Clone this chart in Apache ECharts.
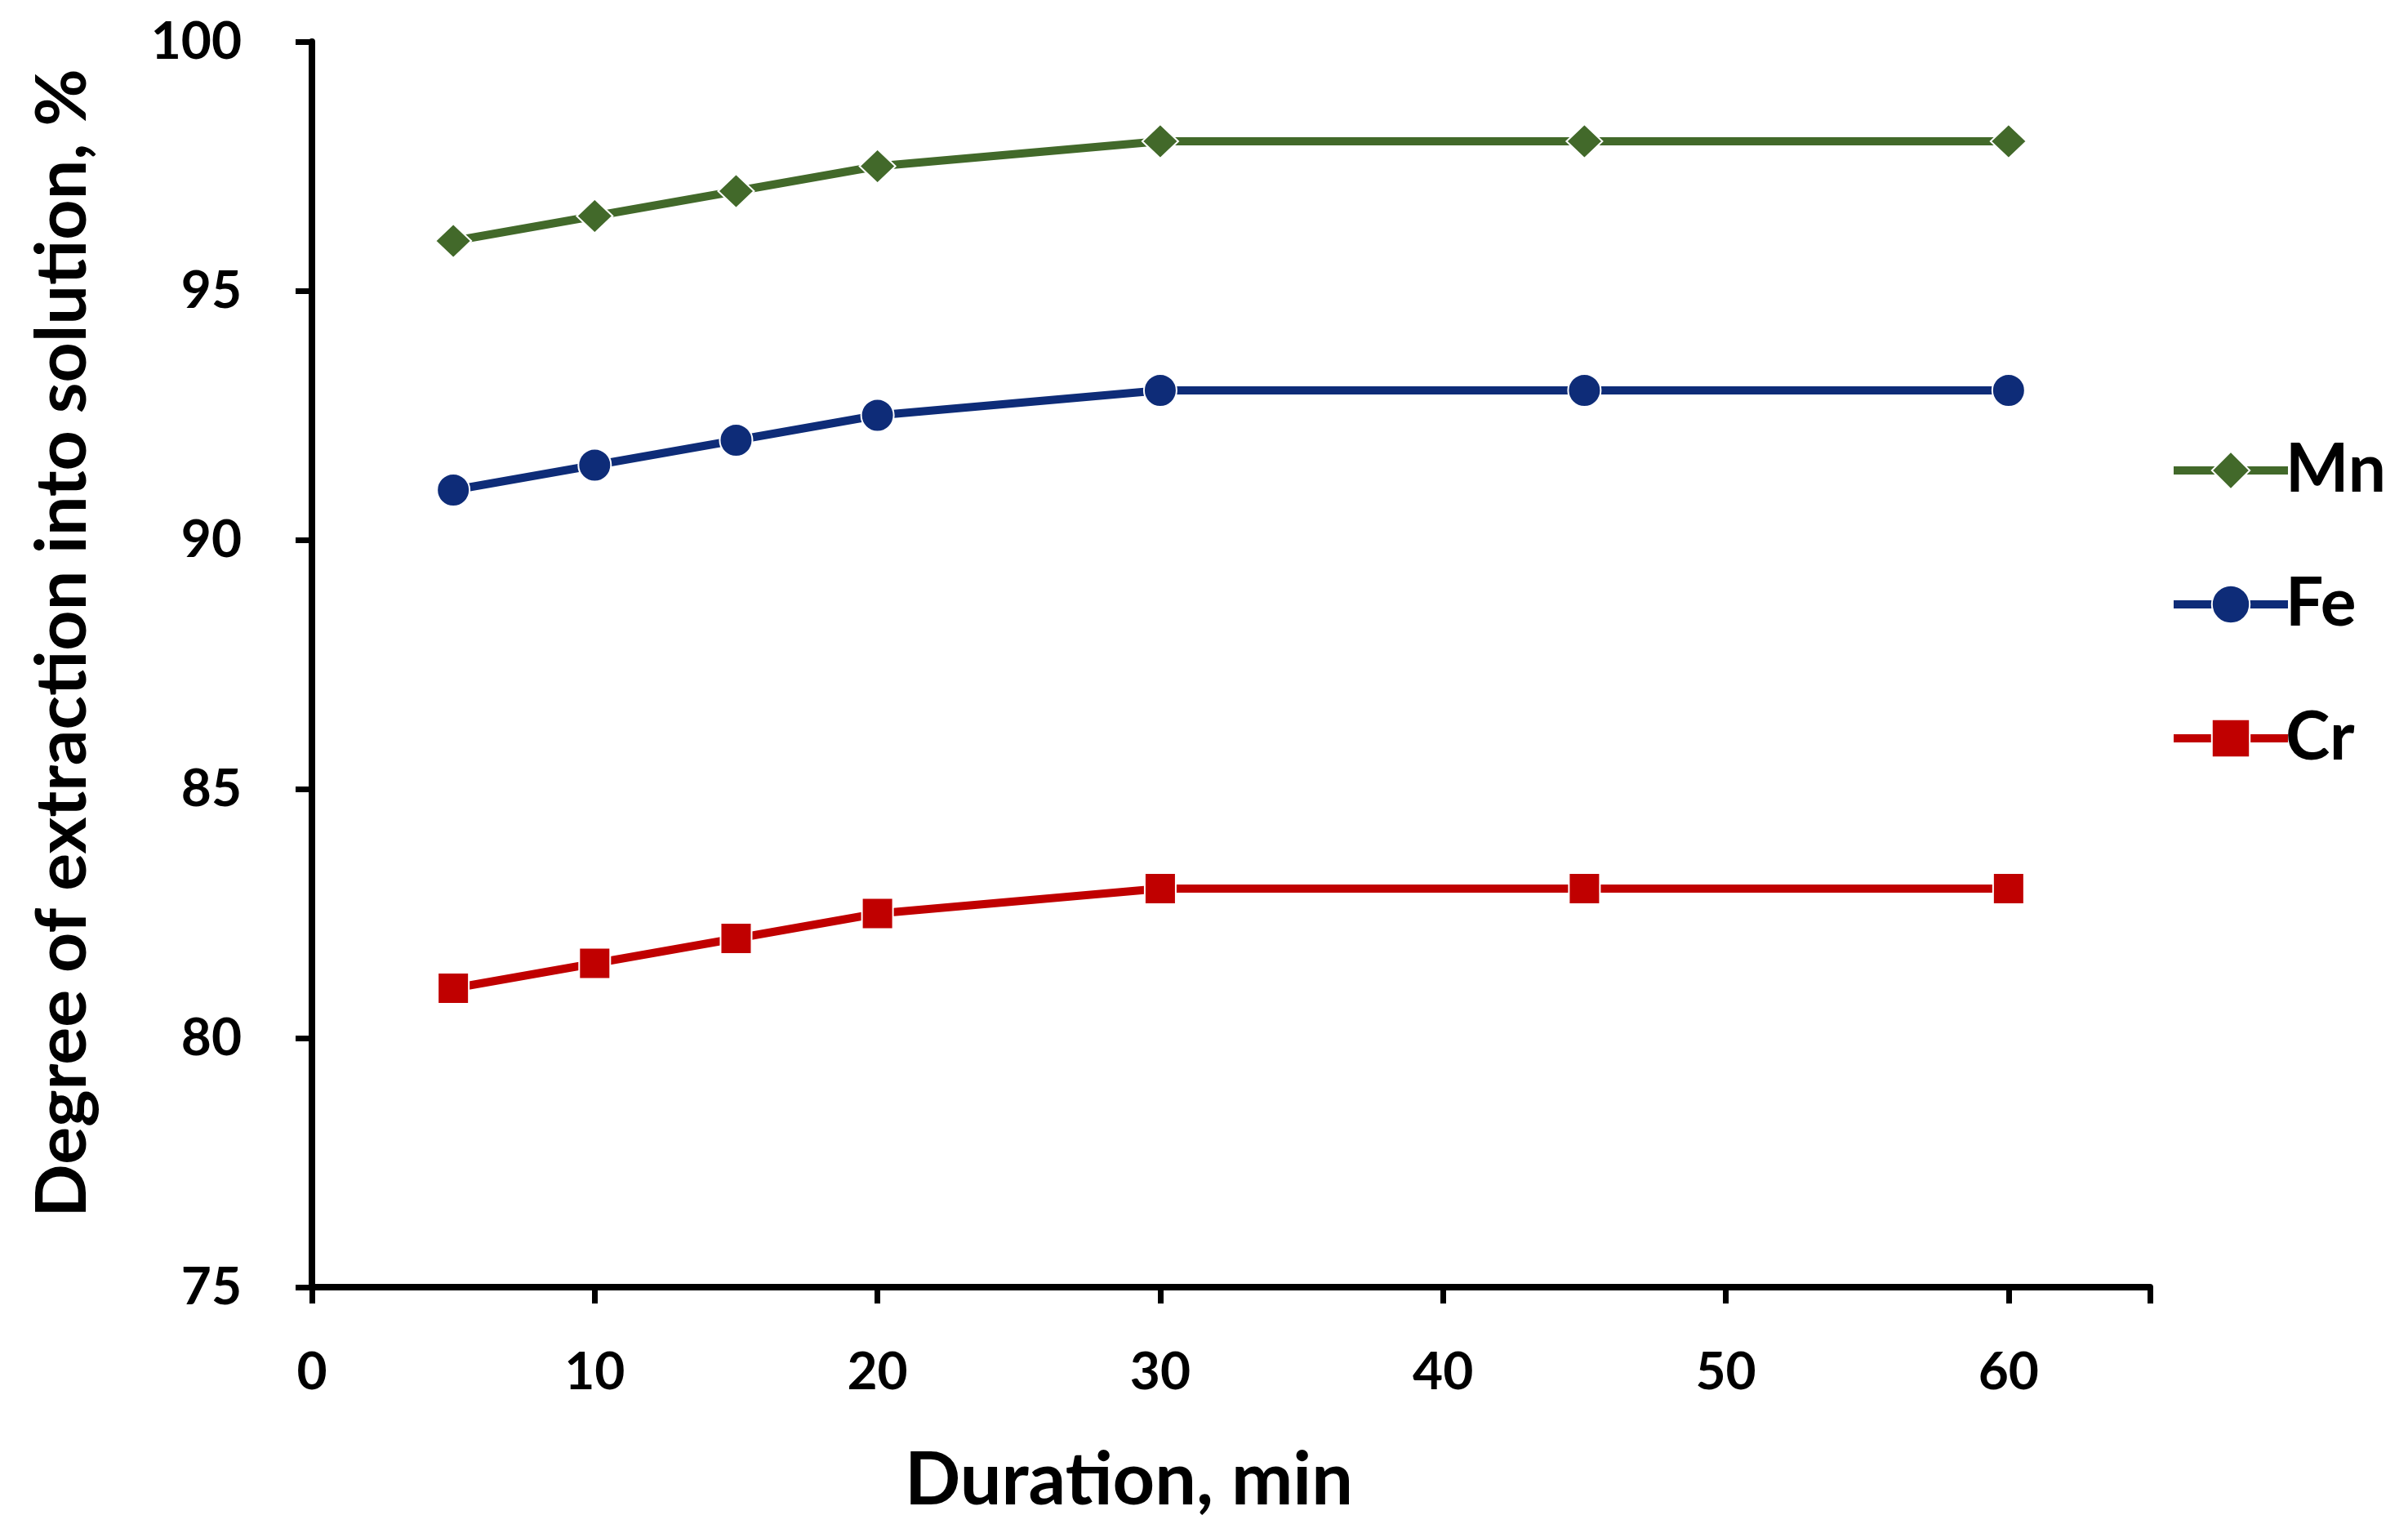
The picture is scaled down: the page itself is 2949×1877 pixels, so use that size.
<!DOCTYPE html>
<html>
<head>
<meta charset="utf-8">
<script src="https://cdn.jsdelivr.net/npm/echarts@6/dist/echarts.min.js"></script>
<style>
html,body{margin:0;padding:0;background:#fff;}
#chart{width:2949px;height:1877px;}
</style>
</head>
<body>
<div id="chart"></div>
<script>
const durations = [5, 10, 15, 20, 30, 45, 60];
const mnValues = [96, 96.5, 97, 97.5, 98, 98, 98];
const feValues = [91, 91.5, 92, 92.5, 93, 93, 93];
const crValues = [81, 81.5, 82, 82.5, 83, 83, 83];
const seriesNames = ['Mn', 'Fe', 'Cr'];
const xAxisTitle = 'Duration, min';
const yAxisTitle = 'Degree of extraction into solution, %';

const FONT = 'Lato';
const pair = (vals) => durations.map((d, i) => [d, vals[i]]);

const chart = echarts.init(document.getElementById('chart'));
const lineCommon = {
  type: 'line',
  lineStyle: { width: 10 },
  itemStyle: { borderColor: '#ffffff', borderWidth: 2 },
  z: 3
};
chart.setOption({
  backgroundColor: '#ffffff',
  animation: false,
  grid: { left: 382, right: 316, top: 51, bottom: 301, containLabel: false },
  legend: {
    orient: 'vertical',
    left: 2652,
    top: 530,
    itemWidth: 140,
    itemHeight: 58,
    itemGap: 82,
    lineStyle: { width: 10 },
    textStyle: { fontFamily: FONT, fontWeight: 'bold', fontSize: 82, color: '#000', padding: [0, 0, 0, -8] },
    data: seriesNames
  },
  xAxis: {
    type: 'value',
    min: 0, max: 65, interval: 10,
    name: xAxisTitle,
    nameLocation: 'middle',
    nameGap: 192,
    nameTextStyle: { fontFamily: FONT, fontWeight: 'bold', fontSize: 90, color: '#000', padding: [0, 250, 0, 0] },
    axisLine: { lineStyle: { color: '#000', width: 8 } },
    axisTick: { show: true, inside: false, length: 20, lineStyle: { color: '#000', width: 7 } },
    axisLabel: {
      fontFamily: FONT, fontWeight: 'bold', fontSize: 64, color: '#000', margin: 72,
      formatter: (v) => (v % 10 === 0 && v <= 60) ? String(v) : ''
    },
    splitLine: { show: false }
  },
  yAxis: {
    type: 'value',
    min: 75, max: 100, interval: 5,
    name: yAxisTitle,
    nameLocation: 'middle',
    nameGap: 262,
    nameTextStyle: { fontFamily: FONT, fontWeight: 'bold', fontSize: 86, color: '#000', padding: [0, 0, 0, 52] },
    axisLine: { lineStyle: { color: '#000', width: 8 } },
    axisTick: { show: true, inside: false, length: 20, lineStyle: { color: '#000', width: 7 } },
    axisLabel: { fontFamily: FONT, fontWeight: 'bold', fontSize: 64, color: '#000', margin: 86 },
    splitLine: { show: false }
  },
  series: [
    Object.assign({}, lineCommon, {
      name: seriesNames[0], data: pair(mnValues), color: '#42692A',
      symbol: 'diamond', symbolSize: [44, 42]
    }),
    Object.assign({}, lineCommon, {
      name: seriesNames[1], data: pair(feValues), color: '#0E2C78',
      symbol: 'circle', symbolSize: 40
    }),
    Object.assign({}, lineCommon, {
      name: seriesNames[2], data: pair(crValues), color: '#C00000',
      symbol: 'rect', symbolSize: 38
    })
  ]
});
</script>
</body>
</html>
